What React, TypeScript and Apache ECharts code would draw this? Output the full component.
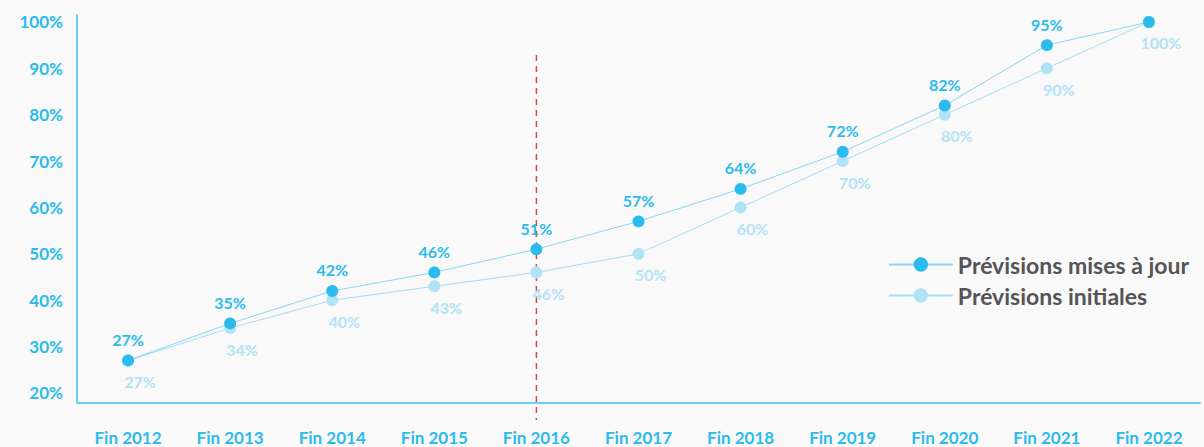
import React, { useEffect, useRef } from "react";
import * as echarts from "echarts";

const categories = ["Fin 2012", "Fin 2013", "Fin 2014", "Fin 2015", "Fin 2016", "Fin 2017", "Fin 2018", "Fin 2019", "Fin 2020", "Fin 2021", "Fin 2022"];
const updatedValues = [27, 35, 42, 46, 51, 57, 64, 72, 82, 95, 100];
const initialValues = [27, 34, 40, 43, 46, 50, 60, 70, 80, 90, 100];
const yTicks = [20, 30, 40, 50, 60, 70, 80, 90, 100];
const seriesNames = ["Prévisions mises à jour", "Prévisions initiales"];
const markerCategory = "Fin 2016";

const DARK = "#2bbbec";
const LIGHT = "#b2e2f6";
const FONT = "Lato";

export default function App() {
  const ref = useRef<HTMLDivElement>(null);
  useEffect(() => {
    if (!ref.current) return;
    const chart = echarts.init(ref.current, undefined, { renderer: "svg" });
    const lastIdx = updatedValues.length - 1;
    chart.setOption({
      animation: false,
      backgroundColor: "#f9f9fa",
      textStyle: { fontFamily: FONT },
      grid: { left: 77, right: 4, top: 15, bottom: 44 },
      legend: {
        orient: "vertical",
        right: 10,
        top: 248,
        itemWidth: 64,
        itemHeight: 18,
        itemGap: 8,
        textStyle: { fontFamily: FONT, fontWeight: 700, fontSize: 23, color: "#555555" },
        data: seriesNames,
      },
      xAxis: {
        type: "category",
        data: categories,
        boundaryGap: true,
        axisLine: { lineStyle: { color: "#6fcbef", width: 2 } },
        axisTick: { show: false },
        axisLabel: { margin: 26, color: DARK, fontFamily: FONT, fontWeight: 700, fontSize: 17 },
      },
      yAxis: {
        type: "value",
        min: 17.84,
        max: 101.5,
        splitLine: { show: false },
        axisLine: { show: true, lineStyle: { color: "#6fcbef", width: 2 } },
        axisTick: { show: false },
        axisLabel: {
          customValues: yTicks,
          formatter: (v: number) => `${v}%`,
          margin: 14,
          color: DARK,
          fontFamily: FONT,
          fontWeight: 700,
          fontSize: 17,
        },
      },
      series: [
        {
          name: seriesNames[1],
          type: "line",
          data: initialValues,
          symbol: "circle",
          symbolSize: 12,
          itemStyle: { color: LIGHT },
          lineStyle: { color: "#a6ddf4", width: 1 },
          label: {
            show: true,
            position: "bottom",
            distance: 7,
            offset: [12, 0],
            formatter: (p: any) => `${p.value}%`,
            color: LIGHT,
            fontFamily: FONT,
            fontWeight: 700,
            fontSize: 16,
          },
          z: 2,
        },
        {
          name: seriesNames[0],
          type: "line",
          data: updatedValues,
          symbol: "circle",
          symbolSize: 12,
          itemStyle: { color: DARK },
          lineStyle: { color: "#8bd5f2", width: 1 },
          label: {
            show: true,
            position: "top",
            distance: 7,
            formatter: (p: any) => (p.dataIndex === lastIdx ? "" : `${p.value}%`),
            color: DARK,
            fontFamily: FONT,
            fontWeight: 700,
            fontSize: 16,
          },
          z: 3,
        },
      ],
    });
    const x = chart.convertToPixel({ xAxisIndex: 0 }, markerCategory) as number;
    chart.setOption({
      graphic: [
        {
          type: "line",
          shape: { x1: x, y1: 55, x2: x, y2: 420 },
          style: { stroke: "#cf4a4c", lineWidth: 1.5, lineDash: [6, 5] },
          z: 1,
        },
      ],
    });
    return () => chart.dispose();
  }, []);
  return <div ref={ref} style={{ width: 1204, height: 447, position: "absolute", left: 0, top: 0 }} />;
}
